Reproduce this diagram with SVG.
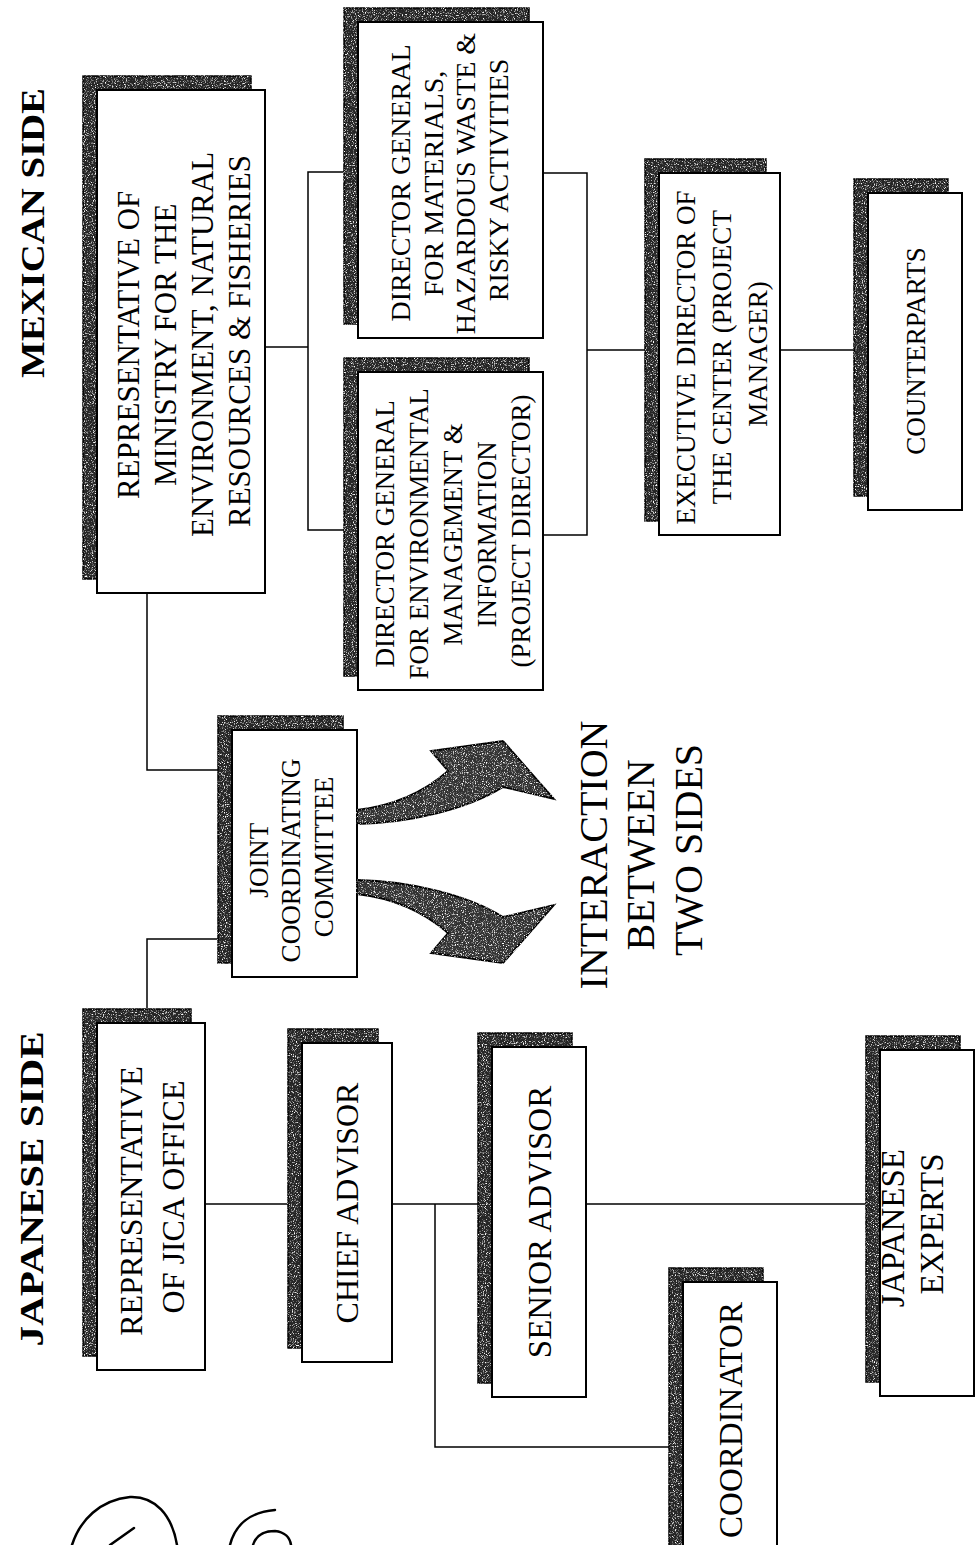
<svg xmlns="http://www.w3.org/2000/svg" width="976" height="1545" viewBox="0 0 976 1545">
<defs>
  <filter id="grain" x="-5%" y="-5%" width="110%" height="110%" color-interpolation-filters="sRGB">
    <feTurbulence type="fractalNoise" baseFrequency="0.9" numOctaves="2" seed="4" result="t"/>
    <feColorMatrix in="t" type="matrix" values="0 0 0 0 1  0 0 0 0 1  0 0 0 0 1  4 0 0 0 -2.1" result="w"/>
    <feComposite in="w" in2="SourceGraphic" operator="in" result="ws"/>
    <feMerge><feMergeNode in="SourceGraphic"/><feMergeNode in="ws"/></feMerge>
  </filter>
</defs>
<style>
  .sh { fill:#262626; stroke:#000; stroke-width:1.5; filter:url(#grain); }
  .bx { fill:#fff; stroke:#000; stroke-width:2; }
  .t { font-family:"Liberation Serif","Times New Roman",serif; fill:#000; text-anchor:middle; }
  .tb { font-family:"Liberation Serif","Times New Roman",serif; fill:#000; text-anchor:middle; font-weight:bold; }
  .conn path { fill:none; stroke:#000; stroke-width:1.5; }
  .arrow { fill:#333; stroke:#000; stroke-width:1.8; stroke-linejoin:miter; filter:url(#grain); }
  .hand { fill:none; stroke:#000; stroke-width:2.5; stroke-linecap:round; }
</style>
<rect x="0" y="0" width="976" height="1545" fill="#fff"/>

<g id="titles">
  <text class="tb" font-size="34" textLength="290" lengthAdjust="spacingAndGlyphs" transform="translate(32,233) rotate(-90)" x="0" y="12">MEXICAN SIDE</text>
  <text class="tb" font-size="34" textLength="315" lengthAdjust="spacingAndGlyphs" transform="translate(31,1189) rotate(-90)" x="0" y="12">JAPANESE SIDE</text>
</g>

<g class="conn" id="connectors">
  <path d="M147,593 V770 H218"/>
  <path d="M218,939 H147 V1009"/>
  <path d="M265,347 H308"/>
  <path d="M344,172 H308 V530 H344"/>
  <path d="M543,173 H587 V535 H543"/>
  <path d="M587,350 H645"/>
  <path d="M780,350 H854"/>
  <path d="M205,1204 H288"/>
  <path d="M392,1204 H478"/>
  <path d="M586,1204 H866"/>
  <path d="M435,1204 V1447 H669"/>
</g>

<g id="ministry">
  <rect class="sh" x="83" y="76" width="168" height="503"/>
  <rect class="bx" x="97" y="90" width="168" height="503"/>
  <text class="t" font-size="31" transform="translate(184,341) rotate(-90)">
    <tspan x="0" y="-44.6">REPRESENTATIVE OF</tspan>
    <tspan x="0" y="-7.6">MINISTRY FOR THE</tspan>
    <tspan x="0" y="29.4">ENVIRONMENT, NATURAL</tspan>
    <tspan x="0" y="66.4">RESOURCES &amp; FISHERIES</tspan>
  </text>
</g>

<g id="dg-materials">
  <rect class="sh" x="344" y="8" width="185" height="316"/>
  <rect class="bx" x="358" y="22" width="185" height="316"/>
  <text class="t" font-size="28" transform="translate(449,180) rotate(-90)">
    <tspan x="0" y="-39">DIRECTOR GENERAL</tspan>
    <tspan x="0" y="-6.5">FOR MATERIALS,</tspan>
    <tspan x="0" y="26">HAZARDOUS WASTE &amp;</tspan>
    <tspan x="0" y="58.5">RISKY ACTIVITIES</tspan>
  </text>
</g>

<g id="dg-environmental">
  <rect class="sh" x="344" y="358" width="185" height="318"/>
  <rect class="bx" x="358" y="372" width="185" height="318"/>
  <text class="t" font-size="27" transform="translate(452,531) rotate(-90)">
    <tspan x="0" y="-58.5">DIRECTOR GENERAL</tspan>
    <tspan x="0" y="-24.5">FOR ENVIRONMENTAL</tspan>
    <tspan x="0" y="9.5">MANAGEMENT &amp;</tspan>
    <tspan x="0" y="43.5">INFORMATION</tspan>
    <tspan x="0" y="77.5">(PROJECT DIRECTOR)</tspan>
  </text>
</g>

<g id="executive-director">
  <rect class="sh" x="645" y="159" width="121" height="362"/>
  <rect class="bx" x="659" y="173" width="121" height="362"/>
  <text class="t" font-size="27" transform="translate(721,354) rotate(-90)">
    <tspan x="0" y="-26.5">EXECUTIVE DIRECTOR OF</tspan>
    <tspan x="0" y="9.5">THE CENTER (PROJECT</tspan>
    <tspan x="0" y="45.5">MANAGER)</tspan>
  </text>
</g>

<g id="counterparts">
  <rect class="sh" x="854" y="179" width="94" height="317"/>
  <rect class="bx" x="868" y="193" width="94" height="317"/>
  <text class="t" font-size="27" transform="translate(915,351) rotate(-90)" x="0" y="9.5">COUNTERPARTS</text>
</g>

<g id="joint-committee">
  <rect class="sh" x="218" y="716" width="125" height="247"/>
  <rect class="bx" x="232" y="730" width="125" height="247"/>
  <text class="t" font-size="27" transform="translate(290.5,857) rotate(-90)">
    <tspan x="0" y="-23">JOINT</tspan>
    <tspan x="0" y="9.5">COORDINATING</tspan>
    <tspan x="0" y="42">COMMITTEE</tspan>
  </text>
</g>

<g id="interaction">
  <path class="arrow" d="M357,810 C392,806 424,792 448,771 L431,751 L503,741 L554,799 L503,787 C468,809 410,823 357,824 Z"/>
  <path class="arrow" d="M357,894 C392,898 424,912 448,933 L431,953 L503,963 L554,905 L503,917 C468,895 410,881 357,880 Z"/>
  <text class="t" font-size="40" transform="translate(640,850) rotate(-90)">
    <tspan x="0" y="-33.5">INTERACTION</tspan>
    <tspan x="0" y="14">BETWEEN</tspan>
    <tspan x="0" y="61.5">TWO SIDES</tspan>
  </text>
</g>

<g id="jica">
  <rect class="sh" x="83" y="1009" width="108" height="347"/>
  <rect class="bx" x="97" y="1023" width="108" height="347"/>
  <text class="t" font-size="32" transform="translate(152,1197) rotate(-90)">
    <tspan x="0" y="-9.8">REPRESENTATIVE</tspan>
    <tspan x="0" y="32.2">OF JICA OFFICE</tspan>
  </text>
</g>

<g id="chief-advisor">
  <rect class="sh" x="288" y="1029" width="90" height="319"/>
  <rect class="bx" x="302" y="1043" width="90" height="319"/>
  <text class="t" font-size="32" transform="translate(347,1203) rotate(-90)" x="0" y="11.2">CHIEF ADVISOR</text>
</g>

<g id="senior-advisor">
  <rect class="sh" x="478" y="1033" width="94" height="350"/>
  <rect class="bx" x="492" y="1047" width="94" height="350"/>
  <text class="t" font-size="33" transform="translate(539,1222) rotate(-90)" x="0" y="11.5">SENIOR ADVISOR</text>
</g>

<g id="coordinator">
  <rect class="sh" x="669" y="1268" width="94" height="300"/>
  <rect class="bx" x="683" y="1282" width="94" height="300"/>
  <text class="t" font-size="33" transform="translate(730,1420) rotate(-90)" x="0" y="11.5">COORDINATOR</text>
</g>

<g id="japanese-experts">
  <rect class="sh" x="866" y="1036" width="94" height="346"/>
  <rect class="bx" x="880" y="1050" width="94" height="346"/>
  <text class="t" font-size="33" transform="translate(912,1224) rotate(-90)">
    <tspan x="0" y="-8">JAPANESE</tspan>
    <tspan x="0" y="31">EXPERTS</tspan>
  </text>
</g>

<g id="handmarks">
  <path class="hand" d="M72,1545 C80,1520 100,1500 130,1497 C155,1496 172,1515 177,1545"/>
  <path class="hand" d="M110,1545 L134,1528"/>
  <path class="hand" d="M230,1545 C235,1525 250,1512 275,1510"/>
  <path class="hand" d="M253,1545 C256,1535 265,1531 275,1531 C285,1532 290,1538 291,1545"/>
</g>
</svg>
